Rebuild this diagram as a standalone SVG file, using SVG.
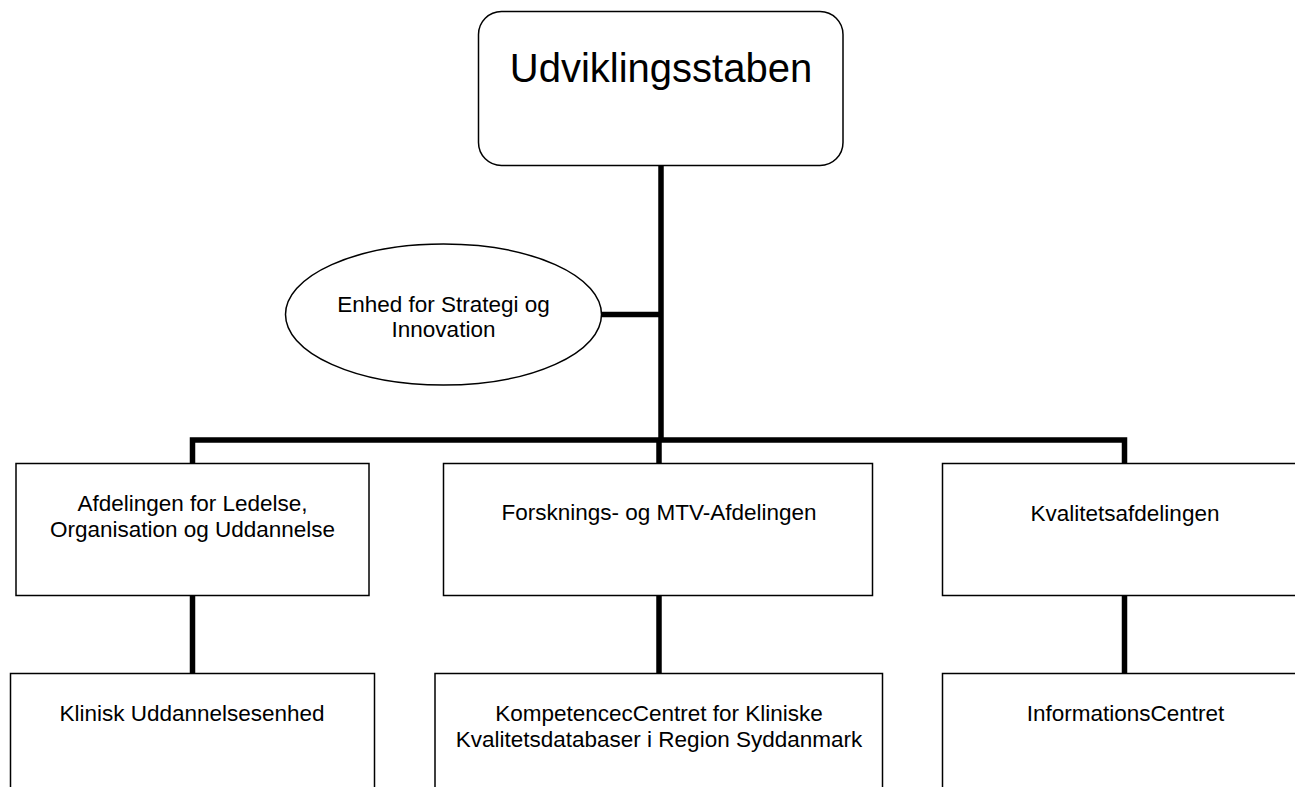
<svg xmlns="http://www.w3.org/2000/svg" width="1295" height="787" viewBox="0 0 1295 787">
<style>
.box{fill:#fff;stroke:#000;stroke-width:1.5}
.conn{fill:none;stroke:#000;stroke-width:5.5;stroke-linecap:butt;stroke-linejoin:miter}
.t{font-family:"Liberation Sans",Arial,sans-serif;font-size:22.5px;fill:#000;text-anchor:middle}
.big{font-size:40px}
</style>
<rect width="1295" height="787" fill="#fff"/>
<g id="connectors">
<path class="conn" d="M661,166 V440"/>
<path class="conn" d="M602,314.5 H661"/>
<path class="conn" d="M192.5,463 V440 H1124.5 V463"/>
<path class="conn" d="M659,440 V463"/>
<path class="conn" d="M192.5,596 V673"/>
<path class="conn" d="M659,596 V673"/>
<path class="conn" d="M1124.5,596 V673"/>
</g>
<g id="udviklingsstaben">
<rect class="box" x="478.5" y="11.5" width="364.5" height="154" rx="23" ry="23"/>
<text class="t big" x="661" y="82">Udviklingsstaben</text>
</g>
<g id="strategi">
<ellipse class="box" cx="443.5" cy="314.5" rx="158" ry="70.5"/>
<text class="t" x="443.5" y="311.5">Enhed for Strategi og</text>
<text class="t" x="443.5" y="336.5">Innovation</text>
</g>
<g id="ledelse">
<rect class="box" x="16" y="463.5" width="353" height="132"/>
<text class="t" x="192.5" y="511">Afdelingen for Ledelse,</text>
<text class="t" x="192.5" y="536.5">Organisation og Uddannelse</text>
</g>
<g id="forskning">
<rect class="box" x="443.5" y="463.5" width="429" height="132"/>
<text class="t" x="659" y="520">Forsknings- og MTV-Afdelingen</text>
</g>
<g id="kvalitet">
<rect class="box" x="942.5" y="463.5" width="366" height="132"/>
<text class="t" x="1125" y="520.5">Kvalitetsafdelingen</text>
</g>
<g id="klinisk">
<rect class="box" x="10.5" y="673.5" width="364" height="130"/>
<text class="t" x="192" y="720.5">Klinisk Uddannelsesenhed</text>
</g>
<g id="kompetence">
<rect class="box" x="435" y="673.5" width="447.5" height="130"/>
<text class="t" x="659" y="720.5">KompetencecCentret for Kliniske</text>
<text class="t" x="659" y="746.5">Kvalitetsdatabaser i Region Syddanmark</text>
</g>
<g id="information">
<rect class="box" x="942.5" y="673.5" width="366" height="130"/>
<text class="t" x="1125.5" y="720.5">InformationsCentret</text>
</g>
</svg>
